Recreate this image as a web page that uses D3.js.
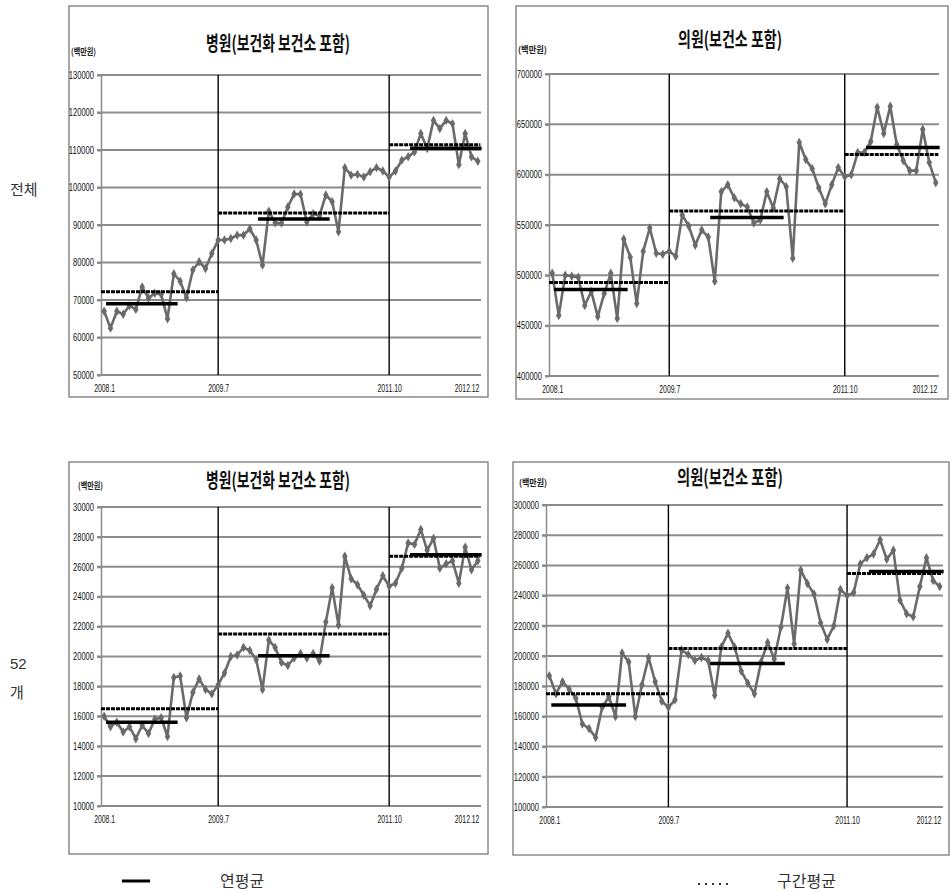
<!DOCTYPE html>
<html><head><meta charset="utf-8">
<script src="https://cdn.jsdelivr.net/npm/d3@7"></script>
<style>body{margin:0;background:#fff} svg{display:block}</style>
</head><body><svg id="c" width="951" height="892"></svg>
<script>
// ---------- data ----------
const xTickIndex = [0, 18, 45, 59];
const xTickLabels = ["2008.1", "2009.7", "2011.10", "2012.12"];
const boundaryIndex = [18, 45];
const periodStartIndex = [-0.5, 18, 45];
const periodEndIndex = [18, 45, 59.4];
const yearStartIndex = [0, 24, 48];
const yearEndIndex = [11, 35, 59];

const hospTotal = [67000,62500,67000,66200,68500,67500,73500,70500,71800,71500,65000,77000,
  75000,70600,78000,80200,78400,82400,86000,86000,86400,87300,87300,89000,
  86000,79300,93700,90600,90500,94800,98300,98200,90800,93000,92500,98000,
  96200,88200,105300,103300,103500,102800,104200,105300,104400,102800,104400,107300,
  108200,109500,114400,110400,117900,115700,117900,117000,106100,114400,108200,107000];
const hospTotalPeriod = [72200, 93200, 111400];
const hospTotalYear = [69000, 91600, 110500];
const hospTotalTicks = [50000,60000,70000,80000,90000,100000,110000,120000,130000];

const clinicTotal = [502000,460000,500000,499000,498000,470000,484000,459000,482000,502000,457000,536000,
  518000,472000,524000,547000,522000,521000,524000,519000,560000,549000,530000,545000,
  538000,494000,583000,590000,577000,571000,568000,552000,555000,583000,567000,596000,
  588000,517000,632000,615000,606000,587000,571000,590000,607000,598000,600000,622000,
  622000,633000,667000,641000,668000,630000,614000,604000,604000,645000,612000,592000];
const clinicTotalPeriod = [493000, 564000, 620000];
const clinicTotalYear = [486000, 557500, 627000];
const clinicTotalTicks = [400000,450000,500000,550000,600000,650000,700000];

const hosp52 = [16000,15300,15600,14950,15300,14500,15400,14850,15800,15900,14650,18600,
  18700,15900,17600,18500,17800,17500,18100,18900,20000,20100,20600,20400,
  19800,17800,21100,20600,19600,19400,19900,20200,19900,20200,19700,22300,
  24600,22100,26700,25200,24800,24100,23400,24500,25400,24700,24900,25900,
  27600,27500,28500,27100,27900,25900,26200,26400,24900,27300,25800,26400];
const hosp52Period = [16500, 21500, 26700];
const hosp52Year = [15600, 20050, 26800];
const hosp52Ticks = [10000,12000,14000,16000,18000,20000,22000,24000,26000,28000,30000];

const clinic52 = [187000,175000,183000,178000,172000,155000,152000,146000,166000,173000,160000,202000,
  196000,160000,181000,199000,183000,170000,166000,171000,204000,201000,197000,199000,
  197000,174000,206000,215000,206000,190000,182000,175000,196000,209000,198000,219000,
  245000,208000,257000,248000,241000,222000,211000,220000,244000,240000,242000,261000,
  265000,267500,277000,264000,270000,237000,228000,226000,246000,265000,250000,246000];
const clinic52Period = [175000, 205000, 254700];
const clinic52Year = [167500, 195000, 256000];
const clinic52Ticks = [100000,120000,140000,160000,180000,200000,220000,240000,260000,280000,300000];

const titleHosp = "병원(보건화 보건소 포함)";
const titleClinic = "의원(보건소 포함)";
const unitLabel = "(백만원)";
const rowLabels = [["전체"], ["52", "개"]];
const legendLabels = ["연평균", "구간평균"];

// ---------- layout ----------
const panels = [
  {title: titleHosp, series: hospTotal, period: hospTotalPeriod, yearly: hospTotalYear, ticks: hospTotalTicks,
   box: {x: 69, y: 6, w: 419, h: 391}, plot: {x0: 101, x1: 481, top: 75, bottom: 375},
   tx: 278, ty: 51, tw: 144, ux: 71, uy: 55, uw: 25},
  {title: titleClinic, series: clinicTotal, period: clinicTotalPeriod, yearly: clinicTotalYear, ticks: clinicTotalTicks,
   box: {x: 516, y: 6, w: 432, h: 393}, plot: {x0: 549, x1: 939, top: 74, bottom: 376},
   tx: 730, ty: 47, tw: 104, ux: 518, uy: 53, uw: 29},
  {title: titleHosp, series: hosp52, period: hosp52Period, yearly: hosp52Year, ticks: hosp52Ticks,
   box: {x: 69, y: 462, w: 419, h: 392}, plot: {x0: 101, x1: 481, top: 507, bottom: 806},
   tx: 278, ty: 488, tw: 144, ux: 78, uy: 489, uw: 25},
  {title: titleClinic, series: clinic52, period: clinic52Period, yearly: clinic52Year, ticks: clinic52Ticks,
   box: {x: 513, y: 462, w: 436, h: 393}, plot: {x0: 546, x1: 943, top: 505, bottom: 807},
   tx: 730, ty: 485, tw: 106, ux: 519, uy: 486, uw: 28}
];

const svg = d3.select("#c");
const kr = "'Noto Sans CJK KR', 'Noto Sans', sans-serif";
const num = "'Liberation Sans', Arial, sans-serif";
const gridColor = "#8c8c8c";
const lineColor = "#6a6a6a";
const lastTick = xTickLabels.length - 1;

panels.forEach(p => {
  const g = svg.append("g");
  const x = d3.scaleLinear().domain([-0.5, 59.5]).range([p.plot.x0, p.plot.x1]);
  const y = d3.scaleLinear().domain([p.ticks[0], p.ticks[p.ticks.length - 1]]).range([p.plot.bottom, p.plot.top]);

  g.append("rect").attr("x", p.box.x).attr("y", p.box.y).attr("width", p.box.w).attr("height", p.box.h)
    .attr("fill", "none").attr("stroke", "#8a8a8a").attr("stroke-width", 1.5);

  // gridlines
  g.selectAll(".grid").data(p.ticks).join("line")
    .attr("x1", p.plot.x0 - 4).attr("x2", p.plot.x1)
    .attr("y1", d => y(d)).attr("y2", d => y(d))
    .attr("stroke", gridColor).attr("stroke-width", 2);

  // y axis
  const ya = g.append("g").attr("transform", `translate(${p.plot.x0},0)`)
    .call(d3.axisLeft(y).tickValues(p.ticks).tickFormat(d3.format("d")).tickSizeInner(4).tickSizeOuter(0).tickPadding(3));
  ya.select(".domain").attr("stroke", gridColor).attr("stroke-width", 1.5);
  ya.selectAll(".tick line").attr("stroke", gridColor).attr("stroke-width", 2);
  ya.selectAll("text").attr("font-family", num).attr("font-size", 10).attr("fill", "#111")
    .attr("textLength", d => String(d).length * 4.2).attr("lengthAdjust", "spacingAndGlyphs");

  // x axis labels
  const xa = g.append("g").attr("transform", `translate(0,${p.plot.bottom})`)
    .call(d3.axisBottom(x).tickValues(xTickIndex).tickFormat((d, i) => xTickLabels[i]).tickSize(0).tickPadding(10));
  xa.select(".domain").remove();
  xa.selectAll("text").attr("font-family", num).attr("font-size", 10).attr("fill", "#111")
    .attr("textLength", (d, i) => xTickLabels[i].length * 3.5).attr("lengthAdjust", "spacingAndGlyphs")
    .attr("text-anchor", (d, i) => i === lastTick ? "end" : "middle")
    .attr("dx", (d, i) => i === lastTick ? 1 : 0);

  // period boundaries
  g.selectAll(".vb").data(boundaryIndex).join("line")
    .attr("x1", d => x(d)).attr("x2", d => x(d))
    .attr("y1", p.plot.top).attr("y2", p.plot.bottom)
    .attr("stroke", "#000").attr("stroke-width", 1.4);

  // data line
  const line = d3.line().x((d, i) => x(i)).y(d => y(d));
  g.append("path").datum(p.series).attr("d", line)
    .attr("fill", "none").attr("stroke", lineColor).attr("stroke-width", 2.6).attr("stroke-linejoin", "round");
  g.selectAll(".mk").data(p.series).join("path")
    .attr("d", d3.symbol(d3.symbolDiamond, 26))
    .attr("transform", (d, i) => `translate(${x(i)},${y(d)})`)
    .attr("fill", lineColor);

  // period averages (dashed)
  g.selectAll(".pa").data(p.period).join("line")
    .attr("x1", (d, i) => x(periodStartIndex[i])).attr("x2", (d, i) => x(periodEndIndex[i]))
    .attr("y1", d => y(d)).attr("y2", d => y(d))
    .attr("stroke", "#000").attr("stroke-width", 3).attr("stroke-dasharray", "4,1");

  // yearly averages (solid)
  g.selectAll(".ya").data(p.yearly).join("line")
    .attr("x1", (d, i) => x(yearStartIndex[i] + 0.3)).attr("x2", (d, i) => x(yearEndIndex[i] + 0.6))
    .attr("y1", d => y(d)).attr("y2", d => y(d))
    .attr("stroke", "#000").attr("stroke-width", 3.5);

  // title and unit
  g.append("text").attr("x", p.tx).attr("y", p.ty).attr("text-anchor", "middle")
    .attr("font-family", kr).attr("font-weight", "bold").attr("font-size", 20).attr("fill", "#111")
    .attr("textLength", p.tw).attr("lengthAdjust", "spacingAndGlyphs").text(p.title);
  g.append("text").attr("x", p.ux).attr("y", p.uy)
    .attr("font-family", kr).attr("font-weight", "bold").attr("font-size", 9).attr("fill", "#222")
    .attr("textLength", p.uw).attr("lengthAdjust", "spacingAndGlyphs").text(unitLabel);
});

// row labels
svg.append("text").attr("x", 10).attr("y", 195).attr("font-family", kr).attr("font-size", 15).attr("fill", "#333").text(rowLabels[0][0]);
svg.append("text").attr("x", 10).attr("y", 669).attr("font-family", num).attr("font-size", 15).attr("fill", "#333").text(rowLabels[1][0]);
svg.append("text").attr("x", 10).attr("y", 698).attr("font-family", kr).attr("font-size", 15).attr("fill", "#333").text(rowLabels[1][1]);

// legend
svg.append("line").attr("x1", 122).attr("x2", 150).attr("y1", 881).attr("y2", 881).attr("stroke", "#000").attr("stroke-width", 3);
svg.append("text").attr("x", 220).attr("y", 887).attr("font-family", kr).attr("font-size", 16).attr("fill", "#333").text(legendLabels[0]);
svg.append("line").attr("x1", 698).attr("x2", 732).attr("y1", 884).attr("y2", 884).attr("stroke", "#333").attr("stroke-width", 2)
  .attr("stroke-dasharray", "2,5");
svg.append("text").attr("x", 777).attr("y", 887).attr("font-family", kr).attr("font-size", 16).attr("fill", "#333").text(legendLabels[1]);
</script></body></html>
